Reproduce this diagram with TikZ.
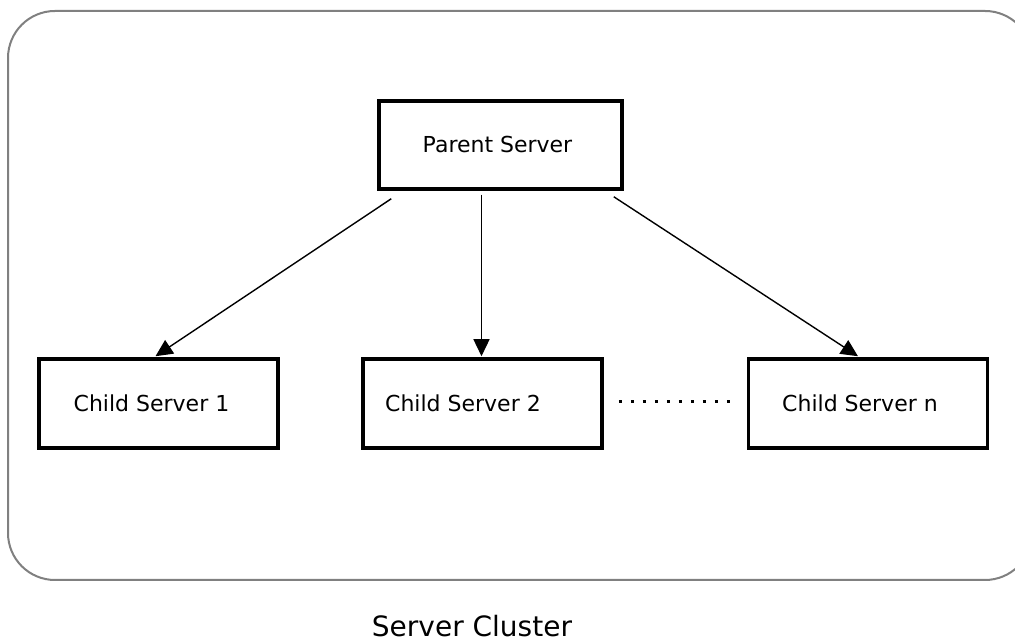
\documentclass[tikz,border=0pt]{standalone}
\usepackage{fontspec}
\setmainfont{DejaVu Sans}
\usetikzlibrary{calc,arrows.meta}
\newcommand{\boxwd}{239pt}
\newcommand{\boxht}{89pt}
\newcommand{\boxfont}{\fontsize{22}{26}\selectfont}

\begin{document}
\begin{tikzpicture}[x=1pt,y=1pt]
      \useasboundingbox (0,0) rectangle (1015,644);
      \draw[line width=2pt, color=black!50, rounded corners=47pt] (8,633) rectangle (1032,64);
      \node (p) at (500.5,499)  [draw, line width=3.5pt, minimum width=243pt, minimum height=88pt, font=\boxfont] {Parent Server\kern6pt};
      \node (c1) at (158.5,240.5)  [draw, line width=3.5pt, minimum width=\boxwd, minimum height=\boxht, font=\boxfont] {Child Server 1\kern14pt};
      \node (c2) at (482.5,240.5)  [draw, line width=3.5pt, minimum width=\boxwd, minimum height=\boxht, font=\boxfont] {Child Server 2\kern39pt};
      \node (cn) at (868,240.5)  [draw, line width=3.5pt, minimum width=\boxwd, minimum height=\boxht, font=\boxfont] {Child Server n\kern16pt};
      \node (cl) at (472,18) [font=\fontsize{28}{32}\selectfont] {Server Cluster};
      \draw[line width=1.4pt, -{Triangle[length=17pt,width=16pt]}] ($(p.south west)+(14,-8)$) to ($(c1.north)+(-3,1)$);
      \draw[line width=1.4pt, -{Triangle[length=17pt,width=16pt]}] ($(p.south)+(-19,-4)$) to ($(c2.north)+(-1,1)$);
      \draw[line width=1.4pt, -{Triangle[length=17pt,width=16pt]}] ($(p.south east)+(-10,-6)$) to ($(cn.north)+(-10,1)$);
      \draw[line width=3pt, dash pattern=on 3pt off 9pt] ($(c2.east)+(15,2)$) to ($(cn.west)+(-15,2)$);

  \end{tikzpicture}
\end{document}
